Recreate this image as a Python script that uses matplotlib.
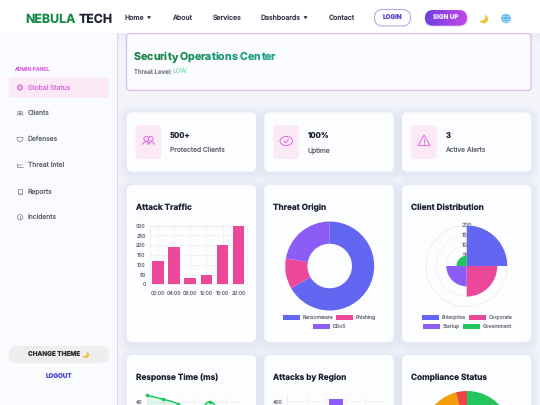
import matplotlib
matplotlib.use("Agg")
import matplotlib.pyplot as plt
import numpy as np
from matplotlib.colors import LinearSegmentedColormap, to_rgb
from matplotlib.patches import Arc, Circle, Ellipse, FancyBboxPatch, PathPatch, Polygon, Rectangle
from matplotlib.path import Path

plt.rcParams['font.family'] = ['Inter', 'DejaVu Sans']
plt.rcParams['text.hinting'] = 'no_hinting'

W, H = 540, 405

# chart data
traffic_hours = ["00:00", "04:00", "08:00", "12:00", "16:00", "20:00"]
traffic_values = [120, 190, 30, 50, 200, 300]
traffic_ticks = [0, 50, 100, 150, 200, 250, 300]

origin_labels = ["Ransomware", "Phishing", "DDoS"]
origin_values = [300, 50, 100]

client_labels = ["Enterprise", "Corporate", "Startup", "Government"]
client_values = [200, 150, 100, 50]
client_ticks = [50, 100, 150, 200]

# only the top of the last row is on the page, hidden values are guesses
response_values = [45, 42, 38, 28, 40, 26, 30]
response_ticks = [40]

region_values = [300, 150, 420, 200, 280]
region_ticks = [400]

compliance_values = [75, 21, 4]

BLUE = "#6366f1"
PINK = "#ec4899"
PURPLE = "#8b5cf6"
GREEN = "#22c55e"
ORANGE = "#f59e0b"
RED = "#ef4444"
DARK = "#1f2233"
GREY = "#555a66"
ACCENT = "#d96be0"
ICON = "#7a7d86"
TICK = "#777a82"
SOFT = "#5f626d"

fig = plt.figure(figsize=(W / 100, H / 100), dpi=100, facecolor="#f2f4f9")
bg = fig.add_axes([0, 0, 1, 1])
bg.set_xlim(0, W)
bg.set_ylim(H, 0)
bg.axis("off")
renderer = fig.canvas.get_renderer()


def box(x, y, w, h, r, fc, ec="none", lw=0, z=1, alpha=None):
    p = FancyBboxPatch((x + r, y + r), w - 2 * r, h - 2 * r,
                       boxstyle=f"round,pad={r},rounding_size={r}",
                       fc=fc, ec=ec, lw=lw, zorder=z, alpha=alpha)
    bg.add_patch(p)
    return p


def shadow(x, y, w, h, r, a=0.08):
    for grow in (8, 6, 4, 2):
        box(x - grow, y - grow + 2, w + 2 * grow, h + 2 * grow, r + grow, "#c9cdf2", z=1.5, alpha=a)


def label(x, y, s, size=4.85, color=GREY, weight="normal", ha="left", z=5):
    bg.text(x, y, s, fontsize=size, color=color, fontweight=weight,
            ha=ha, va="center", zorder=z)


def text_width(s, size, weight):
    # measured ten times larger so pixel rounding does not pile up
    t = bg.text(0, 0, s, fontsize=size * 10, fontweight=weight)
    w = t.get_window_extent(renderer).width / 10
    t.remove()
    return w


def gradient_text(x, y, s, size, c0, c1, weight="bold"):
    # css background-clip gradient, coloured one letter at a time
    c0, c1 = np.array(to_rgb(c0)), np.array(to_rgb(c1))
    x_w = text_width("x", size, weight)
    base = y + 0.36 * size * 100 / 72
    for i, ch in enumerate(s):
        if ch == " ":
            continue
        dx = text_width(s[:i] + "x", size, weight) - x_w if i else 0
        c = c0 + (c1 - c0) * i / (len(s) - 1)
        bg.text(x + dx, base, ch, fontsize=size, color=tuple(c), fontweight=weight, va="baseline", zorder=5)


def px_axes(x0, y0, x1, y1, **kw):
    # axes given in pixel coordinates from the top left corner
    ax = fig.add_axes([x0 / W, 1 - y1 / H, (x1 - x0) / W, (y1 - y0) / H], **kw)
    ax.patch.set_alpha(0)
    return ax


def moon(x, y, r, cover):
    bg.add_patch(Circle((x, y), r, fc="#f6c445", ec="none", zorder=5))
    bg.add_patch(Circle((x - r * 0.55, y - r * 0.55), r * 0.9, fc=cover, ec="none", zorder=5.1))


def line(xs, ys, color=ICON, lw=0.5):
    bg.plot(xs, ys, color=color, lw=lw, zorder=6, solid_capstyle="round")


def ring(x, y, r, color=ICON, lw=0.5):
    bg.add_patch(Circle((x, y), r, fc="none", ec=color, lw=lw, zorder=6))


def arc(x, y, w, h, color=ICON, lw=0.5):
    # bg y axis runs downwards so 180-360 is the top half on screen
    bg.add_patch(Arc((x, y), w, h, theta1=180, theta2=360, color=color, lw=lw, zorder=6))


def people_icon(x, y, s, color, lw):
    ring(x - s * 0.35, y - s * 0.3, s * 0.42, color, lw)
    ring(x + s * 0.45, y - s * 0.3, s * 0.42, color, lw)
    arc(x - s * 0.35, y + s * 0.75, s * 1.3, s * 1.0, color, lw)
    arc(x + s * 0.5, y + s * 0.75, s * 1.2, s * 1.0, color, lw)


# navbar
shadow(-20, -20, W + 40, 53, 1, a=0.05)
bg.add_patch(Rectangle((0, 0), W, 33, fc="white", ec="none", zorder=3))
logo_y = 18 + 0.36 * 8.9 * 100 / 72
bg.text(25.5, logo_y, "NEBULA", fontsize=8.9, color="#178a48", fontweight="bold", va="baseline", zorder=5)
bg.text(78.3, logo_y, "TECH", fontsize=8.9, color=DARK, fontweight="bold", va="baseline", zorder=5)
for x, s in [(124.5, "Home"), (172, "About"), (212.5, "Services"), (261, "Dashboards"), (329, "Contact")]:
    label(x, 18, s, size=5.0, color="#3a3e4b", weight="medium")
for x in (149, 305.5):
    bg.add_patch(Polygon([[x - 2, 16.2], [x + 2, 16.2], [x, 19.2]], fc="#222", ec="none", zorder=5))
box(374.5, 9.5, 36, 16.5, 8.2, "white", ec="#b9a9e8", lw=0.8, z=5)
label(392.5, 18, "LOGIN", size=4.5, color="#5b45c9", weight="bold", ha="center")
# sign up button with its gradient
box(424, 11, 44, 16, 8, "#c9b6f2", z=4, alpha=0.35)
clip = box(425, 10, 42, 15.7, 7.8, "none", z=5)
grad = bg.imshow(np.linspace(0, 1, 64).reshape(1, -1), aspect="auto", extent=(425, 467, 25.7, 10), zorder=5,
                 cmap=LinearSegmentedColormap.from_list("btn", ["#6f3fe0", "#c246e6"]))
grad.set_clip_path(clip)
bg.set_xlim(0, W)
bg.set_ylim(H, 0)
label(446, 18, "SIGN UP", size=4.5, color="#f4e8ff", weight="bold", ha="center", z=6)
moon(483.7, 19, 4.4, "white")
bg.add_patch(Circle((506, 18.5), 4.7, fc="#4db4ea", ec="none", zorder=5))
bg.add_patch(Ellipse((506, 18.5), 4.4, 9.2, fc="none", ec="#c4e8f8", lw=0.4, zorder=6))
line([501.5, 510.5], [18.5, 18.5], "#c4e8f8", 0.4)
line([502.3, 509.7], [15.8, 15.8], "#c4e8f8", 0.4)
line([502.3, 509.7], [21.2, 21.2], "#c4e8f8", 0.4)

# sidebar
bg.add_patch(Rectangle((0, 33), 117, H - 33, fc="#fafbff", ec="none", zorder=2))
bg.add_patch(Rectangle((117, 33), 1.4, H - 33, fc="#e9cdf0", ec="none", zorder=2))
label(13.7, 69, "ADMIN PANEL", size=3.7, color=ACCENT, weight="medium")
box(8.5, 77.3, 100.5, 20.5, 4, "#fbe9f5", z=3)
bg.add_patch(Circle((20, 87.5), 2.5, fc="#f0b5ea", ec=ACCENT, lw=0.8, zorder=5))
label(28, 87.5, "Global Status", color=ACCENT)
for y, s in [(113.3, "Clients"), (139.3, "Defenses"), (165.3, "Threat Intel"), (191.3, "Reports"), (217.3, "Incidents")]:
    label(28, y, s, color=SOFT)
people_icon(20, 113.3, 3, ICON, 0.45)
bg.add_patch(Polygon([[17, 137.3], [23, 137.3], [22.7, 140], [20, 142.2], [17.3, 140]],
                     fc="none", ec=ICON, lw=0.5, zorder=6))
line([17, 17, 23], [163, 167.3, 167.3])
line([17.8, 19.3, 20.6, 22.6], [166, 164.6, 165.6, 164.4], ICON, 0.4)
bg.add_patch(Rectangle((17.7, 188.6), 4.6, 5.6, fc="none", ec=ICON, lw=0.5, zorder=6))
line([18.8, 21.2], [192.6, 192.6], ICON, 0.4)
ring(20, 217.3, 2.7)
line([20, 20], [216.2, 218.6], ICON, 0.5)
box(8.5, 346, 100.5, 17.3, 8.6, "#eeeeee", z=3)
label(54.2, 354.3, "CHANGE THEME", size=4.6, color="#333", weight="bold", ha="center")
moon(85.8, 354.8, 3.4, "#eeeeee")
label(58.6, 377.3, "LOGOUT", size=4.5, color="#4a45cc", weight="bold", ha="center")

# header card
box(126.5, 33.5, 404.5, 57, 4, "#fbfcff", ec="#e6bdf0", lw=1, z=2)
gradient_text(133.5, 56.5, "Security Operations Center", 7.65, "#15803d", "#16a58c")
label(133.7, 72.5, "Threat Level:", size=4.4, color="#777a82")
label(172.6, 72.5, "LOW", size=4.5, color="#8fe6bc")

# stat cards
card_x = [126.7, 264.3, 402]
card_w = 129.3
stat_text = [("500+", "Protected Clients"), ("100%", "Uptime"), ("3", "Active Alerts")]
for x, (big, small) in zip(card_x, stat_text):
    shadow(x, 112.3, card_w, 59.4, 6)
    box(x, 112.3, card_w, 59.4, 6, "#fcfdff", z=2)
    box(x + 9, 125, 25.7, 34, 4, "#fbe9f5", z=3)
    label(x + 43.4, 135.3, big, size=5.6, color=DARK, weight="bold")
    label(x + 43.4, 150.5, small, color=SOFT)

people_icon(148.2, 140.5, 5.6, ACCENT, 0.7)
# cloud with tick
bg.add_patch(Ellipse((286.3, 141), 12.5, 9, fc="none", ec=ACCENT, lw=0.7, zorder=6))
line([284, 285.7, 288.6], [141, 142.8, 139.4], ACCENT, 0.7)
# warning triangle
bg.add_patch(Polygon([[424, 135], [430, 145.6], [418.2, 145.6]], fc="none", ec=ACCENT, lw=0.7, zorder=6, joinstyle="round"))
line([424, 424], [138.8, 141.8], ACCENT, 0.7)
line([424, 424], [143.4, 143.6], ACCENT, 0.7)

# chart cards
titles = ["Attack Traffic", "Threat Origin", "Client Distribution",
          "Response Time (ms)", "Attacks by Region", "Compliance Status"]
for i, s in enumerate(titles):
    x = card_x[i % 3]
    y = 185 if i < 3 else 355
    shadow(x, y, card_w, 157, 6)
    box(x, y, card_w, 157, 6, "#fcfdff", z=2)
    bg.text(x + 9, y + 23, s, fontsize=5.95, color=DARK, fontweight="bold", va="center", zorder=5)

# bar chart
ax = px_axes(150, 225.7, 246.7, 284.3)
ax.bar(traffic_hours, traffic_values, width=0.72, color=PINK, zorder=3)
ax.set_ylim(0, 300)
ax.set_yticks(traffic_ticks)
ax.set_xlim(-0.5, 5.5)
ax.grid(color="#eeeef2", lw=0.5)
ax.set_axisbelow(True)
for s in ax.spines.values():
    s.set_color("#e8e8ee")
    s.set_linewidth(0.5)
ax.tick_params(labelsize=3.7, length=0, pad=3, labelcolor=TICK)
ax.tick_params(axis="x", pad=4.5)

# donut
ax = px_axes(285.2, 221.5, 374.2, 310.5)
ax.pie(origin_values, colors=[BLUE, PINK, PURPLE], startangle=90, counterclock=False,
       radius=1, wedgeprops=dict(width=0.5))
ax.set_xlim(-1, 1)
ax.set_ylim(-1, 1)


def legend_row(items, y):
    for x, c, s in items:
        bg.add_patch(Rectangle((x, y - 2.4), 16.8, 4.9, fc=c, ec="none", zorder=5))
        label(x + 19.6, y, s, size=3.6, color=TICK)


legend_row([(283, BLUE, origin_labels[0]), (336.3, PINK, origin_labels[1])], 317.4)
legend_row([(312.7, PURPLE, origin_labels[2])], 326.8)

# polar area
ax = px_axes(426, 225.3, 507.4, 306.7, projection="polar")
ax.set_theta_zero_location("N")
ax.set_theta_direction(-1)
step = np.pi / 2
ax.bar([step * (i + 0.5) for i in range(4)], client_values, width=step,
       color=[BLUE, PINK, PURPLE, GREEN], zorder=3)
ax.set_ylim(0, 200)
ax.set_yticks(client_ticks)
ax.set_yticklabels([])
ax.set_xticks([])
ax.grid(color="#eeeef2", lw=0.5)
ax.spines["polar"].set_color("#eeeef2")
ax.spines["polar"].set_linewidth(0.5)
for v in client_ticks:
    ax.text(0, v, str(v), fontsize=4, color=TICK, ha="center", va="center", zorder=2, clip_on=False)

legend_row([(422.3, BLUE, client_labels[0]), (469.3, PINK, client_labels[1])], 317.4)
legend_row([(423.3, PURPLE, client_labels[2]), (463.3, GREEN, client_labels[3])], 326.8)

# response time, the chart runs off the bottom of the page
ax = px_axes(146.7, 395.3, 241.7, 453.3)
xs = np.arange(len(response_values))
ys = np.array(response_values, dtype=float)
# smooth line through the points, like a tension of 0.4
slopes = np.gradient(ys)
verts = [(xs[0], ys[0])]
codes = [Path.MOVETO]
for i in range(len(xs) - 1):
    verts += [(xs[i] + 0.4, ys[i] + 0.4 * slopes[i]), (xs[i + 1] - 0.4, ys[i + 1] - 0.4 * slopes[i + 1]),
              (xs[i + 1], ys[i + 1])]
    codes += [Path.CURVE4] * 3
ax.add_patch(PathPatch(Path(verts + [(xs[-1], 0), (xs[0], 0), (xs[0], ys[0])],
                            codes + [Path.LINETO, Path.LINETO, Path.CLOSEPOLY]),
                       fc=GREEN, alpha=0.13, ec="none", zorder=2))
ax.add_patch(PathPatch(Path(verts, codes), fc="none", ec=GREEN, lw=1.1, zorder=3))
ax.plot(xs, ys, ls="none", marker="o", ms=1.6, color=GREEN, zorder=4, clip_on=False)
ax.set_xlim(0, len(xs) - 1)
ax.set_ylim(0, 45)
ax.set_xticks(xs)
ax.set_yticks(response_ticks)
ax.set_xticklabels([])
ax.grid(color="#eeeef2", lw=0.5)
ax.set_axisbelow(True)
for s in ax.spines.values():
    s.set_visible(False)
ax.spines["left"].set_visible(True)
ax.spines["left"].set_color("#e8e8ee")
ax.spines["left"].set_linewidth(0.5)
ax.tick_params(labelsize=3.7, length=0, pad=3, labelcolor=TICK)

# region bars
ax = px_axes(287.3, 395, 385, 453)
ax.bar(range(5), region_values, width=0.75, color=PURPLE, zorder=3)
ax.set_xlim(-0.5, 4.5)
ax.set_ylim(0, 450)
ax.set_yticks(region_ticks)
ax.set_xticks(np.arange(-0.5, 5))
ax.set_xticklabels([])
ax.grid(color="#eeeef2", lw=0.5)
ax.set_axisbelow(True)
for s in ax.spines.values():
    s.set_visible(False)
ax.spines["left"].set_visible(True)
ax.spines["left"].set_color("#e8e8ee")
ax.spines["left"].set_linewidth(0.5)
ax.tick_params(labelsize=3.7, length=0, pad=3, labelcolor=TICK)

# compliance pie
ax = px_axes(422.5, 391, 511.5, 480)
ax.pie(compliance_values, colors=[GREEN, ORANGE, RED], startangle=90, counterclock=False, radius=1)
ax.set_xlim(-1, 1)
ax.set_ylim(-1, 1)

fig.savefig("out.png", dpi=100, facecolor=fig.get_facecolor())
